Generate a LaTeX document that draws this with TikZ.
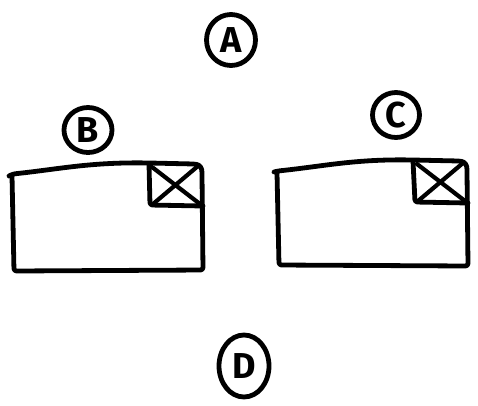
\documentclass[tikz,border=0pt]{standalone}
\usepackage{fontspec}
\setmainfont{Fira Sans}
\usepackage{tikz}
\usetikzlibrary{shapes.geometric}
\tikzset{%
  ink/.style={line width=4.8pt,line cap=round,line join=round,rounded corners=2.5pt},
  tag/.style={ellipse,draw,ink,inner sep=0pt,font=\fontsize{36}{36}\selectfont\bfseries},
  cross/.style={ink,line width=4.2pt},
}

\begin{document}
\begin{tikzpicture}[x=1pt,y=-1pt]
  \useasboundingbox (0,0) rectangle (478,405);

  \node[tag,minimum width=49pt,minimum height=51pt] (a) at (231,40) {A};
  \node[tag,minimum width=48pt,minimum height=45pt] (b) at (88,130) {B};
  \node[tag,minimum width=47pt,minimum height=45pt] (c) at (396,115) {C};
  \node[tag,minimum width=50pt,minimum height=62pt] (d) at (244,366) {D};

  % left window
  \draw[ink] (9,176) -- (13,174) .. controls (60,169) and (90,162) .. (150,163)
    -- (194,164) .. controls (200,165) and (202,168) .. (202,175)
    -- (203,270) -- (14,271) -- (12,176);
  \draw[ink] (149,164) -- (150,205) -- (203,206);
  \draw[cross] (152,167) -- (200,204);
  \draw[cross] (198,166) -- (153,204);

  % right window
  \draw[ink] (274,172) -- (278,171) .. controls (325,166) and (355,159) .. (413,160)
    -- (459,161) .. controls (465,162) and (467,165) .. (467,172)
    -- (468,266) -- (279,265) -- (277,173);
  \draw[ink] (413,161) -- (415,202) -- (468,203);
  \draw[cross] (417,164) -- (465,201);
  \draw[cross] (463,163) -- (418,201);
\end{tikzpicture}
\end{document}
